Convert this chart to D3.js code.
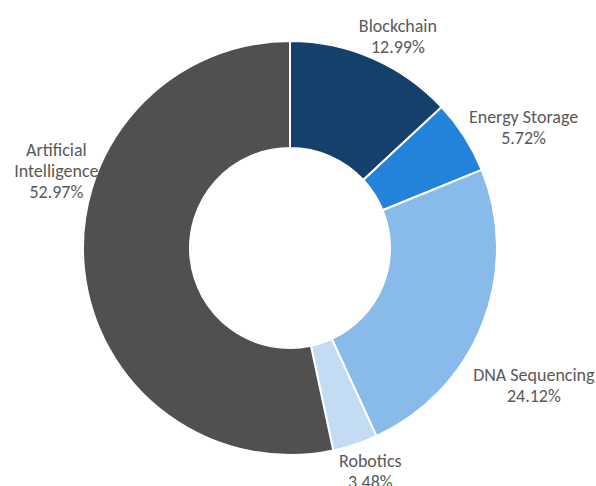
<!DOCTYPE html>
<html>
<head>
<meta charset="utf-8">
<script src="https://cdn.jsdelivr.net/npm/d3@7"></script>
<style>
  body { margin: 0; background: #fff; }
  svg text { font-family: Carlito, Calibri, Lato, sans-serif; font-size: 18px; fill: #595959; }
</style>
</head>
<body>
<svg></svg>
<script>
// data, clockwise from 12 o'clock
var categories = ["Blockchain", "Energy Storage", "DNA Sequencing", "Robotics", "Artificial Intelligence"]
var values = [12.99, 5.72, 24.12, 3.48, 52.97]
var colors = ["#15406b", "#2383db", "#88bbea", "#c3dcf3", "#505050"]

var width = 596, height = 486
var cx = 290, cy = 248
var outerR = 207, innerR = 100
var labelR = 245
var lineH = 21

// excel "best fit" moves some labels, small nudges to follow it
var nudge = {
    "Blockchain": [10, 13],
    "Energy Storage": [27, 11],
    "DNA Sequencing": [16, 47],
    "Robotics": [3, -9],
    "Artificial Intelligence": [10, -103]
}
// label line breaks
var labelLines = {
    "Artificial Intelligence": ["Artificial", "Intelligence"]
}

var svg = d3.select("svg")
    .attr("width", width)
    .attr("height", height)

var data = categories.map((c, i) => ({name: c, value: values[i], color: colors[i]}))

var pie = d3.pie()
    .sort(null)
    .value(d => d.value)

var arc = d3.arc()
    .innerRadius(innerR)
    .outerRadius(outerR)

var labelArc = d3.arc()
    .innerRadius(labelR)
    .outerRadius(labelR)

var g = svg.append("g")
    .attr("transform", `translate(${cx}, ${cy})`)

var arcs = pie(data)

g.selectAll("path")
    .data(arcs)
    .enter().append("path")
    .attr("d", arc)
    .attr("fill", d => d.data.color)
    .attr("stroke", "#fff")
    .attr("stroke-width", 2)
    .attr("stroke-linejoin", "round")

var labels = g.selectAll("text.lbl")
    .data(arcs)
    .enter().append("text")
    .attr("class", "lbl")
    .attr("text-anchor", "middle")
    .attr("transform", d => {
        var p = labelArc.centroid(d)
        var n = nudge[d.data.name] || [0, 0]
        return `translate(${p[0] + n[0]}, ${p[1] + n[1]})`
    })

labels.each(function(d) {
    var lines = (labelLines[d.data.name] || [d.data.name]).concat([d.data.value.toFixed(2) + "%"])
    var t = d3.select(this)
    var y0 = -(lines.length - 1) * lineH / 2
    lines.forEach((l, i) => {
        t.append("tspan")
            .attr("x", 0)
            .attr("y", y0 + i * lineH)
            .attr("dominant-baseline", "central")
            .text(l)
    })
})
</script>
</body>
</html>
